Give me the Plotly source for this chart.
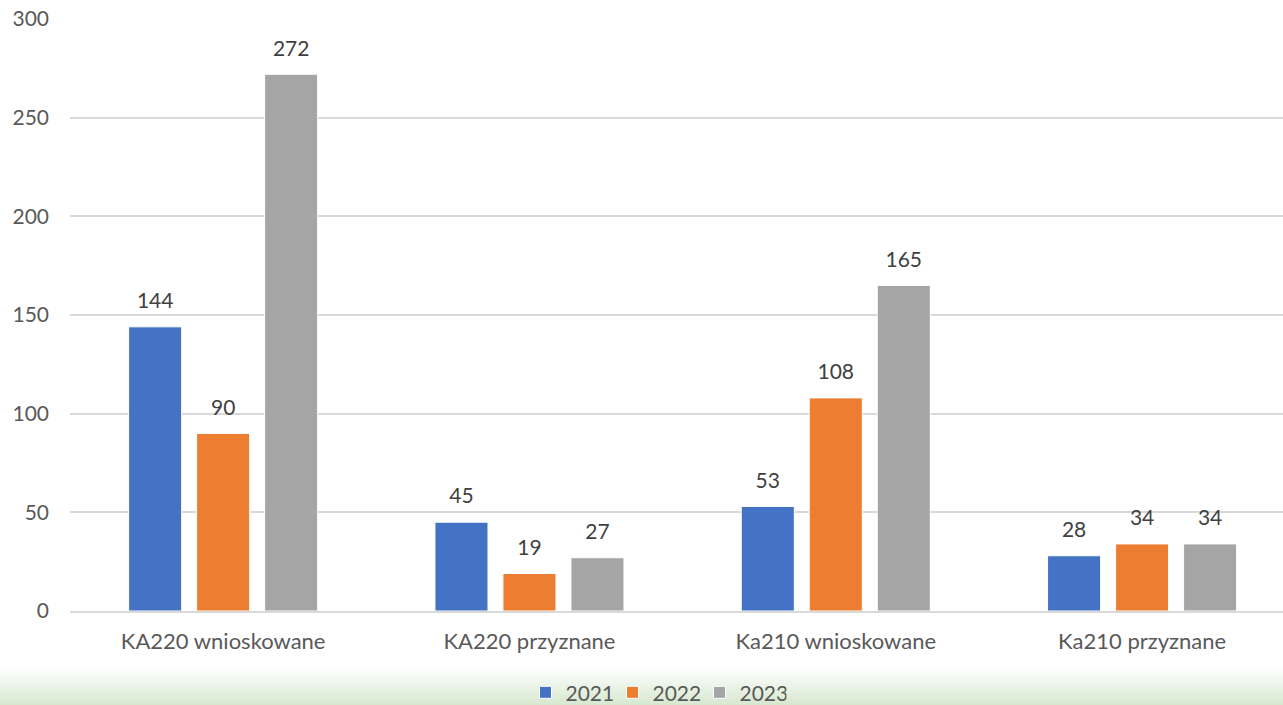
import plotly.graph_objects as go

categories = ["KA220 wnioskowane", "KA220 przyznane", "Ka210 wnioskowane", "Ka210 przyznane"]
series_names = ["2021", "2022", "2023"]
values_2021 = [144, 45, 53, 28]
values_2022 = [90, 19, 108, 34]
values_2023 = [272, 27, 165, 34]
series_values = [values_2021, values_2022, values_2023]
colors = ["#4472C4", "#ED7D31", "#A5A5A5"]
y_ticks = [0, 50, 100, 150, 200, 250, 300]

FONT = "Lato"
FS = 21

fig = go.Figure()
for name, vals, col in zip(series_names, series_values, colors):
    fig.add_trace(go.Bar(
        x=categories, y=vals, name=name,
        marker=dict(color=col, line=dict(color="white", width=1)),
        offsetgroup=name, alignmentgroup="g",
        hoverinfo="skip",
    ))
for name, vals, col in zip(series_names, series_values, colors):
    fig.add_trace(go.Scatter(
        x=categories, y=vals, mode="markers+text",
        text=[str(v) for v in vals], textposition="top center",
        textfont=dict(family=FONT, size=FS, color="#404040"),
        marker=dict(size=20, opacity=0, color=col),
        offsetgroup=name, alignmentgroup="g",
        showlegend=False, hoverinfo="skip", cliponaxis=False,
    ))

# gradient band at the bottom
n = 20
top_px, bot_px = -57, -95
for i in range(n):
    y0 = top_px + (bot_px - top_px) * i / n
    y1 = top_px + (bot_px - top_px) * (i + 1) / n
    t = (i + 0.5) / n
    r = round(255 + (212 - 255) * t)
    g = round(255 + (231 - 255) * t)
    b = round(255 + (205 - 255) * t)
    fig.add_shape(type="rect", xref="paper", yref="paper",
                  xsizemode="pixel", ysizemode="pixel",
                  xanchor=0, yanchor=0,
                  x0=-71, x1=1214, y0=y1 - 0.5, y1=y0,
                  fillcolor=f"rgb({r},{g},{b})", line=dict(width=0), layer="below")

fig.update_layout(
    width=1283, height=705,
    margin=dict(l=70, r=0, t=19, b=94),
    paper_bgcolor="white", plot_bgcolor="white",
    font=dict(family=FONT, size=FS, color="#595959"),
    barmode="group", bargap=0.334, bargroupgap=0.22,
    scattermode="group", scattergap=0.334,
    showlegend=True,
    legend=dict(orientation="h", xref="container", yref="container",
                x=0.5113, xanchor="center", y=0.0175, yanchor="middle",
                font=dict(family=FONT, size=FS, color="#595959"),
                bgcolor="rgba(0,0,0,0)", entrywidth=42, traceorder="normal"),
    xaxis=dict(range=[-0.5, 3.46], showgrid=False, showline=True, linecolor="#D9D9D9",
               linewidth=1.5, ticks="", ticklabelstandoff=10, automargin=False,
               tickfont=dict(family=FONT, size=22, color="#595959"), fixedrange=True),
    yaxis=dict(range=[0, 300], tickvals=y_ticks, showgrid=True, gridcolor="#D9D9D9",
               gridwidth=1.5, zeroline=False, showline=False, ticks="",
               ticklabelstandoff=20, automargin=False,
               tickfont=dict(family=FONT, size=FS, color="#595959"), fixedrange=True),
)
fig.write_html("out.html")
